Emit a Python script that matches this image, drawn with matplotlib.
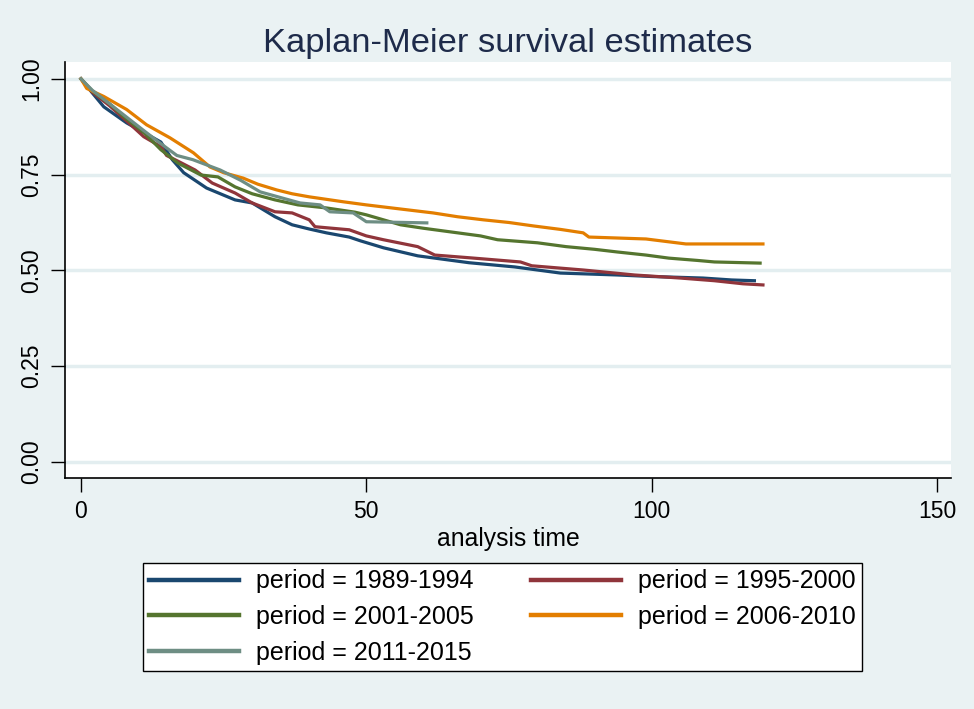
import numpy as np
import matplotlib.pyplot as plt

# Kaplan-Meier estimates (time, survival)
t_8994 = [0, 2, 4, 8, 11, 14, 16, 18, 22, 27, 30, 34, 37, 40, 43, 47, 49, 53, 59, 64, 68, 76, 84, 94, 100, 109, 114, 118]
s_8994 = [1.0, 0.963, 0.927, 0.885, 0.86, 0.835, 0.789, 0.755, 0.715, 0.684, 0.676, 0.64, 0.619, 0.608, 0.598, 0.587,
          0.577, 0.559, 0.538, 0.528, 0.52, 0.509, 0.493, 0.488, 0.484, 0.48, 0.475, 0.473]

t_9500 = [0, 2, 5, 8, 11, 14, 15, 17, 20, 23, 27, 30, 34, 37, 40, 41, 47, 50, 53, 59, 62, 68, 77, 79, 88, 97, 105,
          111, 116, 119.5]
s_9500 = [1.0, 0.965, 0.93, 0.89, 0.849, 0.823, 0.80, 0.785, 0.762, 0.728, 0.702, 0.676, 0.653, 0.65, 0.632, 0.614,
          0.606, 0.59, 0.58, 0.562, 0.54, 0.533, 0.522, 0.512, 0.501, 0.488, 0.48, 0.473, 0.465, 0.462]

t_0105 = [0, 2, 5, 8, 11, 14, 17, 21, 24, 27, 30, 34, 38, 43, 48, 50, 56, 60, 65, 70, 73, 80, 85, 90, 94, 99, 103,
          108, 111, 119]
s_0105 = [1.0, 0.968, 0.935, 0.895, 0.86, 0.815, 0.78, 0.749, 0.744, 0.718, 0.70, 0.684, 0.671, 0.663, 0.652, 0.645,
          0.619, 0.61, 0.60, 0.59, 0.58, 0.572, 0.562, 0.555, 0.548, 0.54, 0.532, 0.526, 0.522, 0.519]

t_0610 = [0, 1, 4, 8, 11.5, 15.6, 19.7, 22.6, 25, 28.4, 31, 34.3, 37, 40, 46, 50, 55, 61.7, 66, 70.5, 75, 79.3, 84,
          88, 89, 95, 99, 106, 119.5]
s_0610 = [1.0, 0.975, 0.954, 0.92, 0.88, 0.846, 0.807, 0.77, 0.755, 0.741, 0.725, 0.71, 0.70, 0.692, 0.679, 0.671,
          0.662, 0.65, 0.64, 0.632, 0.625, 0.616, 0.607, 0.598, 0.587, 0.584, 0.582, 0.569, 0.569]

t_1115 = [0, 2, 5, 8, 11, 13.8, 16.8, 19.6, 24.4, 28, 31.4, 35, 38.4, 41.9, 43.6, 47.7, 50, 60.6]
s_1115 = [1.0, 0.97, 0.935, 0.90, 0.865, 0.833, 0.80, 0.789, 0.762, 0.735, 0.705, 0.69, 0.676, 0.671, 0.653, 0.65,
          0.627, 0.624]

labels = ['period = 1989-1994', 'period = 1995-2000', 'period = 2001-2005',
          'period = 2006-2010', 'period = 2011-2015']
colors = ['#1a476f', '#90353b', '#55752f', '#e37e00', '#6e8e84']
series = [(t_8994, s_8994), (t_9500, s_9500), (t_0105, s_0105), (t_0610, s_0610), (t_1115, s_1115)]

plt.rcParams['font.family'] = ['Liberation Sans', 'DejaVu Sans']
bg = '#eaf2f3'

fig = plt.figure(figsize=(9.74, 7.09), dpi=100, facecolor=bg)
ax = fig.add_axes([65 / 974, 1 - 478 / 709, (951 - 65) / 974, (478 - 62) / 709])
ax.set_facecolor('white')

for y in [0, 0.25, 0.5, 0.75, 1.0]:
    ax.axhline(y, color='#e3eef0', lw=2.5, zorder=0)

handles = []
for (t, s), c, lab in zip(series, colors, labels):
    h, = ax.plot(t, s, color=c, lw=2.3, label=lab)
    handles.append(h)

ax.set_xlim(-2.8, 152.45)
ax.set_ylim(-0.042, 1.044)
ax.set_xticks([0, 50, 100, 150])
ax.set_yticks([0, 0.25, 0.5, 0.75, 1.0])
ax.set_yticklabels(['0.00', '0.25', '0.50', '0.75', '1.00'], rotation=90, va='center')
ax.tick_params(axis='both', length=10, width=1, labelsize=16.5, colors='black')
ax.tick_params(axis='y', pad=6)
ax.tick_params(axis='x', pad=6)
for sp in ['top', 'right']:
    ax.spines[sp].set_visible(False)
for sp in ['left', 'bottom']:
    ax.spines[sp].set_linewidth(1.2)

ax.set_xlabel('analysis time', fontsize=17.8, labelpad=3)
ax.set_title('Kaplan-Meier survival estimates', fontsize=24.8, color='#1e2b4a', pad=7)

# legend filled row by row, as in the reference
order = [0, 2, 4, 1, 3]
leg = fig.legend([handles[i] for i in order], [labels[i] for i in order], loc='center',
                 bbox_to_anchor=(502.5 / 974, 1 - 617 / 709),
                 ncol=2, fontsize=18, frameon=True, fancybox=False, edgecolor='black',
                 facecolor='white', framealpha=1,
                 handlelength=3.6, handletextpad=0.68, columnspacing=2.3, labelspacing=0.47,
                 borderpad=0.25)
leg.get_frame().set_linewidth(1.0)
for lh in leg.get_lines():
    lh.set_linewidth(3.2)

fig.savefig('out.png', dpi=100, facecolor=bg)
